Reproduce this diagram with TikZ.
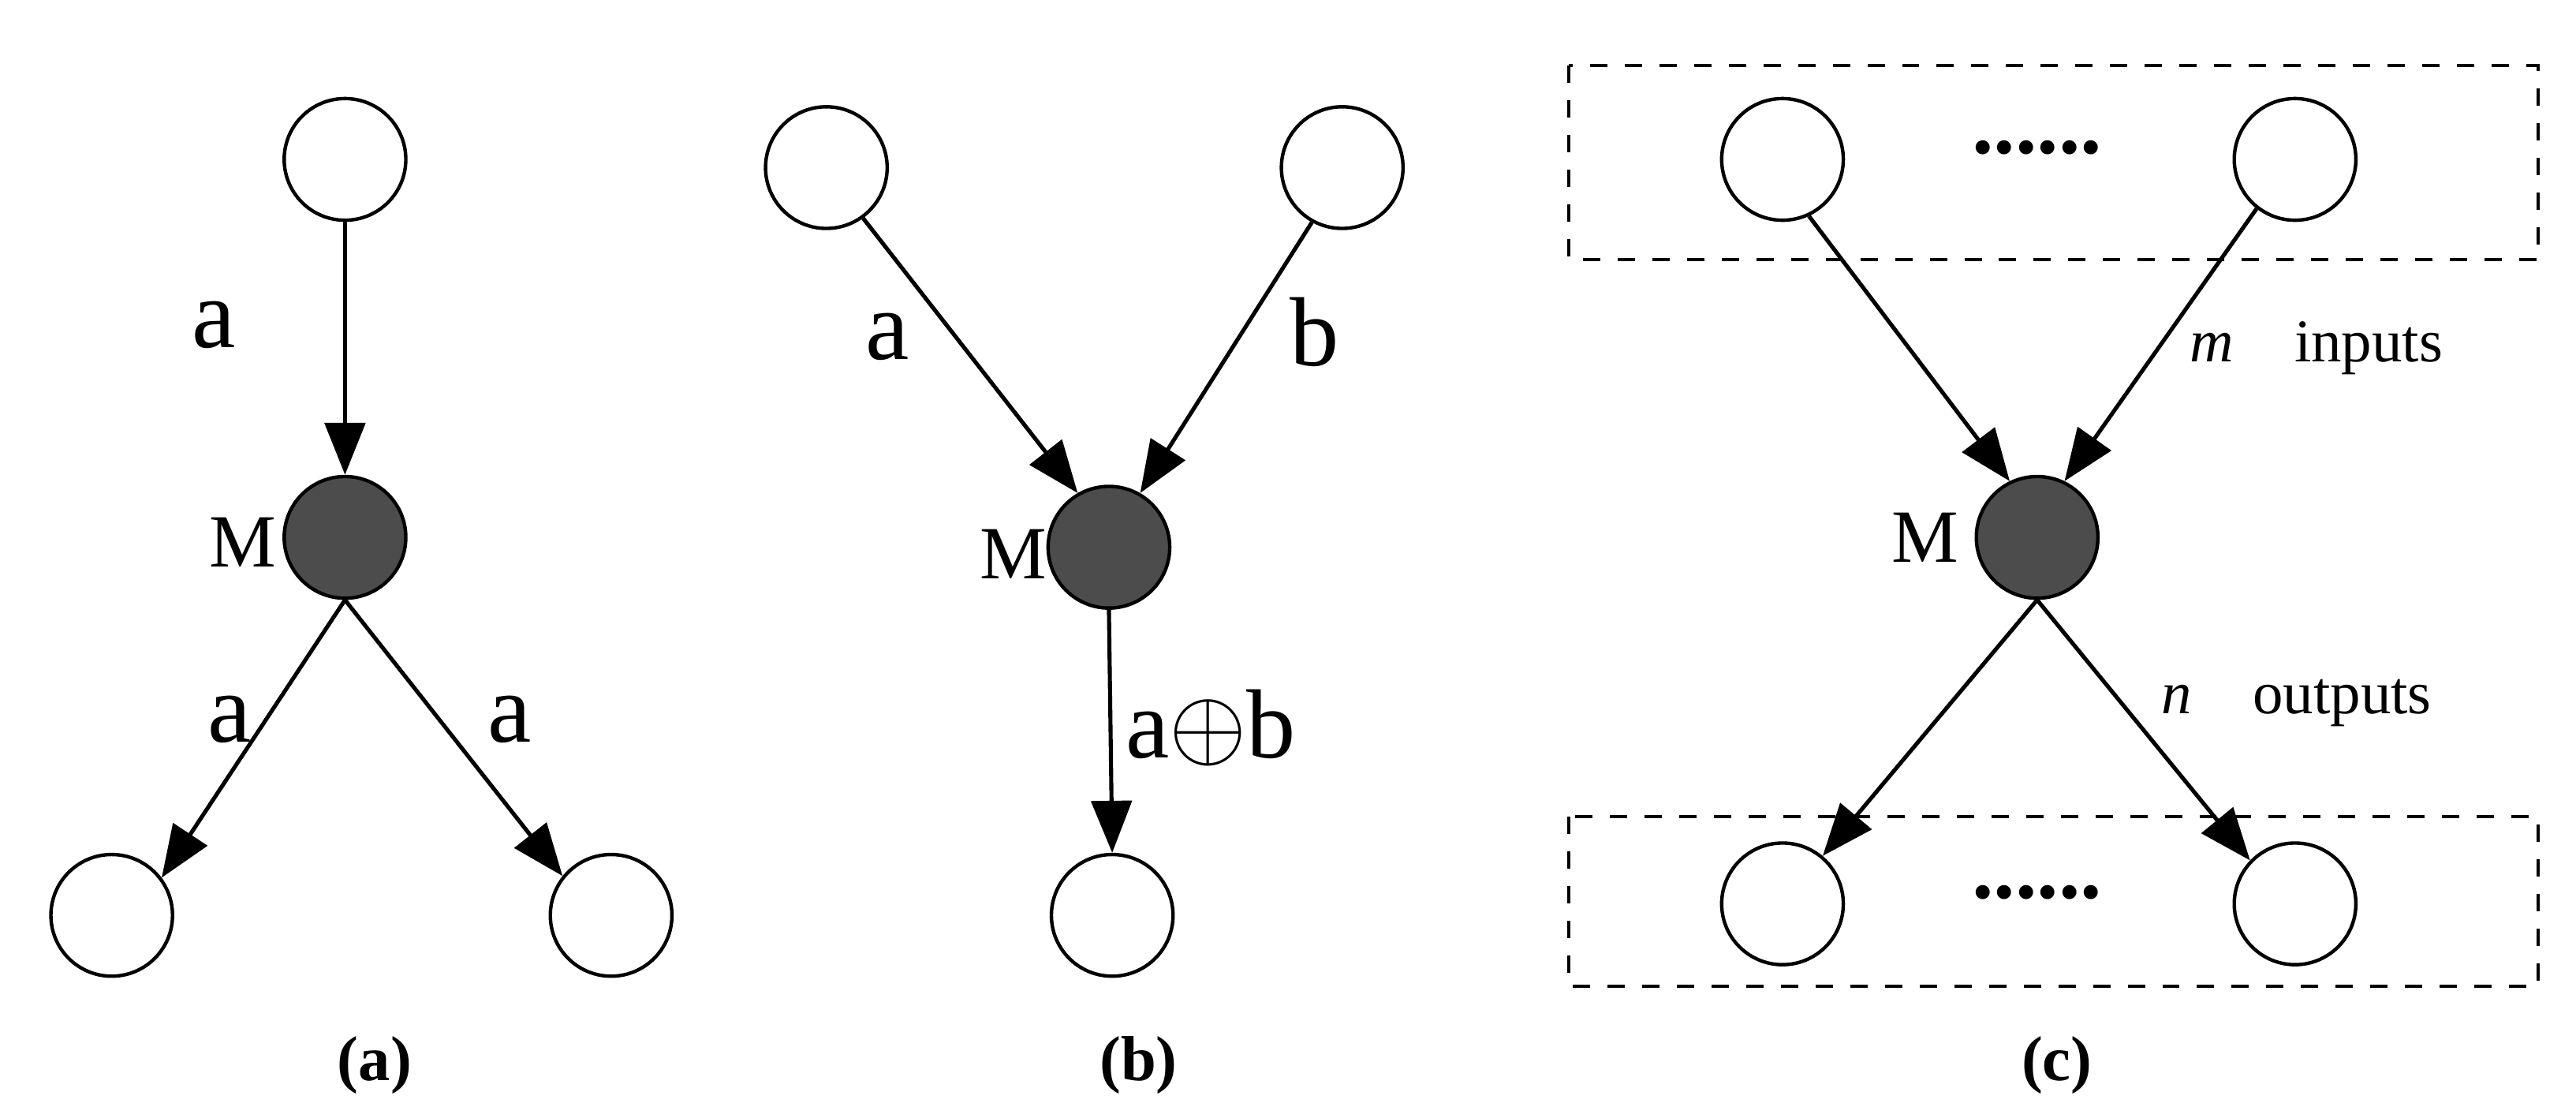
\documentclass[tikz,border=0pt]{standalone}
\usepackage{fontspec}
\setmainfont{Liberation Serif}
\usetikzlibrary{arrows.meta}
\tikzset{
  vertex/.style={circle, draw=black, fill=white, minimum size=0.74cm, inner sep=0pt, line width=0.6pt},
  mnode/.style={circle, draw=black, fill=black!70, minimum size=0.74cm, inner sep=0pt, line width=0.6pt},
  edge/.style={-{Triangle[length=9pt,width=7pt]}, line width=0.7pt},
  biglbl/.style={font=\fontsize{17}{17}\selectfont},
  mlbl/.style={font=\fontsize{13}{13}\selectfont},
  caption/.style={font=\bfseries\fontsize{11}{11}\selectfont},
  group/.style={draw, dashed, line width=0.6pt}
}
\begin{document}
\begin{tikzpicture}[x=0.01cm,y=-0.01cm]
    \useasboundingbox (0,0) rectangle (1568,680);

    % (a) copy
    \node[vertex] (a1) at (210,97) {};
    \node[mnode] (am) at (210,327) {};
    \node[vertex] (a2) at (68,557) {};
    \node[vertex] (a3) at (372,557) {};
    \draw[edge] (a1.south) -- (am.north);
    \draw[edge] (am.south) -- (a2.37);
    \draw[edge] (am.south) -- (a3.141);
    \node[biglbl] at (130,198) {a};
    \node[mlbl] at (148,330) {M};
    \node[biglbl] at (140,438) {a};
    \node[biglbl] at (310,438) {a};
    \node[caption] at (228,648) {(a)};

    % (b) xor
    \node[vertex] (b1) at (503,102) {};
    \node[vertex] (b2) at (817,102) {};
    \node[mnode] (bm) at (675,333) {};
    \node[vertex] (b3) at (677,557) {};
    \draw[edge] (b1.-54) -- (bm.120);
    \draw[edge] (b2.-119) -- (bm.60);
    \draw[edge] (bm.south) -- (b3.north);
    \node[biglbl] at (540,205) {a};
    \node[biglbl] at (800,202) {b};
    \node[mlbl] at (617,337) {M};
    \node[biglbl] at (737,443) {a$\oplus$b};
    \node[caption] at (693,648) {(b)};

    % (c) m inputs, n outputs
    \draw[group] (955,40) rectangle (1545,158);
    \draw[group] (955,497) rectangle (1545,600);
    \node[vertex] (c1) at (1085,97) {};
    \node[vertex] (c2) at (1397,97) {};
    \node[mnode] (cm) at (1240,327) {};
    \node[vertex] (c3) at (1085,550) {};
    \node[vertex] (c4) at (1397,550) {};
    \node[font=\bfseries\fontsize{15}{15}\selectfont] at (1240,90) {......};
    \node[font=\bfseries\fontsize{15}{15}\selectfont] at (1240,543) {......};
    \draw[edge] (c1.-65) -- (cm.116);
    \draw[edge] (c2.-128) -- (cm.64);
    \draw[edge] (cm.south) -- (c3.50);
    \draw[edge] (cm.south) -- (c4.136);
    \node[mlbl] at (1172,327) {M};
    \node[font=\fontsize{10.5}{10.5}\selectfont] at (1410,212) {\textit{m}\quad inputs};
    \node[font=\fontsize{10.5}{10.5}\selectfont] at (1398,428) {\textit{n}\quad outputs};
    \node[caption] at (1252,648) {(c)};
\end{tikzpicture}
\end{document}
